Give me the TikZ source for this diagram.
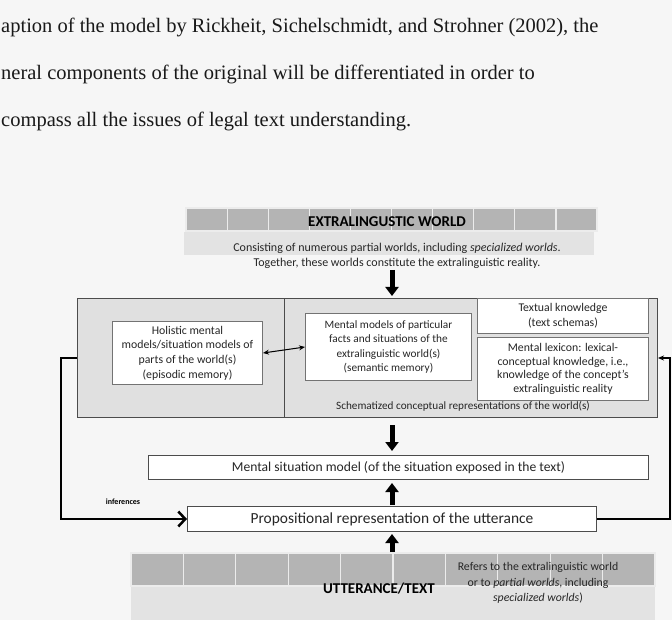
\documentclass[tikz,border=0pt]{standalone}
\usepackage{fontspec}
\setmainfont{Carlito}
\newfontfamily\pagefont{Liberation Serif}
\usetikzlibrary{arrows.meta}
\tikzset{>=stealth}
\definecolor{pagebg}{HTML}{F6F6F6}
\definecolor{panelgray}{HTML}{E0E0E0}
\definecolor{bargray}{HTML}{B4B4B4}
\definecolor{barlight}{HTML}{E3E3E3}
\tikzset{
  pagetext/.style={anchor=base west, inner sep=0pt, text=black!90,
    font=\pagefont\fontsize{20.5}{22}\selectfont},
  headtext/.style={inner sep=0pt, font=\bfseries\fontsize{15}{17}\selectfont},
  notetext/.style={inner sep=1pt, align=center, text=black!85,
    font=\fontsize{12}{15}\selectfont},
  panel/.style={draw=black!70, fill=panelgray, line width=1pt, inner sep=0pt},
  innerbox/.style={draw=black!55, fill=white, line width=1pt, inner sep=0pt,
    align=center, text=black!85, font=\fontsize{11.8}{14.6}\selectfont},
  linebox/.style={draw=black!70, fill=white, line width=1pt, inner sep=0pt,
    text=black!85},
  barcell/.style={draw=white!85!gray, line width=1.2pt, fill=bargray},
  blockarrow/.style={-{Triangle[width=13pt,length=9pt]}, line width=5pt},
}
\begin{document}
\begin{tikzpicture}[x=1pt,y=-1pt]
\useasboundingbox[fill=pagebg] (0,0) rectangle (672,620);
% text of the page
\node[pagetext] (line1) at (1,33) {aption of the model by Rickheit, Sichelschmidt, and Strohner (2002), the};
\node[pagetext] (line2) at (1,80) {neral components of the original will be differentiated in order to};
\node[pagetext] (line3) at (1,127) {compass all the issues of legal text understanding.};
% extralinguistic world
\foreach \i in {0,...,9}
\draw[barcell] (186+41.1*\i,208) rectangle +(41.1,23);
\fill[barlight] (184,232) rectangle (594,255);
\node[headtext] (world) at (387,222) {EXTRALINGUSTIC WORLD};
\node[notetext] (worldnote) at (397,256) {Consisting of numerous partial worlds, including \textit{specialized worlds}.\\Together, these worlds constitute the extralinguistic reality.};
% knowledge panels
\node[panel, minimum width=207, minimum height=119, anchor=north west] (episodic) at (77,298) {};
\node[panel, minimum width=373, minimum height=119, anchor=north west] (schema) at (284,298) {};
\node[innerbox, minimum width=150, minimum height=63, anchor=north west] (holistic) at (112,321) {Holistic mental\\models/situation models of\\parts of the world(s)\\(episodic memory)};
\node[innerbox, minimum width=166, minimum height=67, anchor=north west, font=\fontsize{11.3}{14.6}\selectfont] (semantic) at (305,313) {Mental models of particular\\facts and situations of the\\extralinguistic world(s)\\(semantic memory)};
\node[innerbox, minimum width=171, minimum height=35, anchor=north west] (textual) at (477,298) {Textual knowledge\\(text schemas)};
\node[innerbox, minimum width=171, minimum height=63, anchor=north west, font=\fontsize{11.8}{13.7}\selectfont] (lexicon) at (477,337) {Mental lexicon: lexical-\\conceptual knowledge, i.e.,\\knowledge of the concept's\\extralinguistic reality};
\node[notetext, font=\fontsize{11.2}{13}\selectfont] (schemalabel) at (463,406) {Schematized conceptual representations of the world(s)};
% situation and proposition
\node[linebox, minimum width=500, minimum height=24, anchor=north west, font=\fontsize{13.6}{15}\selectfont] (situation) at (148,455) {Mental situation model (of the situation exposed in the text)};
\node[linebox, minimum width=409, minimum height=25, anchor=north west, font=\fontsize{15.4}{17}\selectfont] (proposition) at (187,506) {Propositional representation of the utterance};
% utterance
\fill[barlight] (131,586) rectangle (655,620);
\foreach \i in {0,...,9}
\draw[barcell] (131+52.4*\i,553) rectangle +(52.4,33);
\node[inner sep=0pt, minimum width=524, minimum height=67, anchor=north west] (utterance) at (131,553) {};
\node[headtext] (uttlabel) at (379,589) {UTTERANCE/TEXT};
\node[notetext, font=\fontsize{11.8}{15.2}\selectfont] (uttnote) at (538,583) {Refers to the extralinguistic world\\or to \textit{partial worlds}, including\\\textit{specialized worlds})};
% arrows
\draw[blockarrow, shorten >=2pt] (worldnote.south -| proposition) -- (proposition |- schema.north);
\draw[blockarrow, shorten <=7pt, shorten >=4pt] (proposition |- schema.south) -- (proposition |- situation.north);
\draw[blockarrow, shorten <=1pt, shorten >=3pt] (proposition.north) -- (proposition |- situation.south);
\draw[blockarrow, shorten <=1pt, shorten >=2pt] (proposition |- utterance.north) -- (proposition.south);
\draw[{Stealth[length=6pt,width=5pt]}-{Stealth[length=6pt,width=5pt]}, line width=1pt] (holistic.east) -- (semantic.west);
\draw[line width=2.5pt, -{Straight Barb[length=7pt,width=15pt]}] (episodic.west) -- ++(-16,0) |- (proposition.west);
\node[font=\bfseries\fontsize{8}{9}\selectfont] (inflabel) at (123,502) {inferences};
\coordinate (loopright) at (670,0);
\draw[line width=1.2pt, -{Stealth[length=6pt,width=5pt]}] (proposition.east) -| (loopright |- schema.east) -- (schema.east);
\end{tikzpicture}
\end{document}
